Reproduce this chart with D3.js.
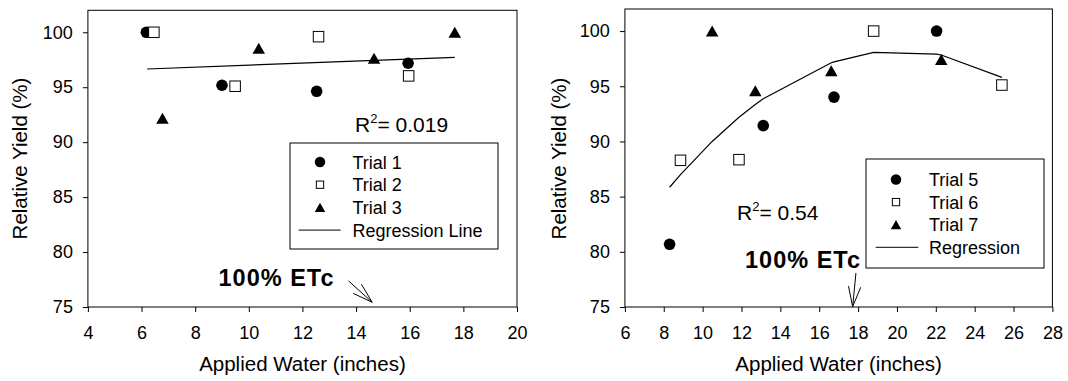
<!DOCTYPE html>
<html><head><meta charset="utf-8">
<script src="https://cdn.jsdelivr.net/npm/d3@7"></script>
<style>
body{margin:0;background:#fff;}
svg{display:block;font-family:"Liberation Sans",Arial,sans-serif;}
</style>
</head><body>
<svg id="chart" width="1068" height="381"></svg>
<script>
// ---------- Left panel data ----------
const trial1X = [6.18, 9.0, 12.53, 15.94];
const trial1Y = [100, 95.18, 94.63, 97.18];
const trial2X = [6.46, 9.49, 12.6, 15.96];
const trial2Y = [100, 95.09, 99.6, 96.03];
const trial3X = [6.78, 10.37, 14.67, 17.68];
const trial3Y = [92.17, 98.54, 97.63, 100];
const regLeftX = [6.21, 17.68];
const regLeftY = [96.66, 97.72];
// ---------- Right panel data ----------
const trial5X = [8.30, 13.12, 16.76, 22.04];
const trial5Y = [80.68, 91.43, 94.02, 100];
const trial6X = [8.86, 11.87, 18.80, 25.40];
const trial6Y = [88.29, 88.35, 100, 95.11];
const trial7X = [10.49, 12.71, 16.62, 22.28];
const trial7Y = [100, 94.6, 96.41, 97.43];
const regRightX = [8.30, 8.86, 10.49, 11.87, 12.71, 13.12, 16.62, 16.76, 18.80, 22.04, 22.28, 25.40];
const regRightY = [85.85, 86.99, 90.0, 92.19, 93.35, 93.87, 97.13, 97.21, 98.07, 97.91, 97.83, 95.8];
// ---------- Ticks & labels ----------
const xTicksLeft = [4, 6, 8, 10, 12, 14, 16, 18, 20];
const xTicksRight = [6, 8, 10, 12, 14, 16, 18, 20, 22, 24, 26, 28];
const yTicks = [75, 80, 85, 90, 95, 100];
const legendLeft = ["Trial 1", "Trial 2", "Trial 3", "Regression Line"];
const legendRight = ["Trial 5", "Trial 6", "Trial 7", "Regression"];
const r2Left = "0.019";
const r2Right = "0.54";
const xTitle = "Applied Water (inches)";
const yTitle = "Relative Yield (%)";
const etcLabel = "100% ETc";

const svg = d3.select("#chart");

function marker(g, type, cx, cy, s) {
  if (type === "circle") {
    g.append("circle").attr("cx", cx).attr("cy", cy).attr("r", s / 2).attr("fill", "#000");
  } else if (type === "square") {
    g.append("rect").attr("x", cx - s / 2).attr("y", cy - s / 2).attr("width", s).attr("height", s)
      .attr("fill", "#fff").attr("stroke", "#000").attr("stroke-width", 1);
  } else {
    const h = s * 0.88;
    g.append("path").attr("d", `M${cx - s / 2},${cy + h / 2}L${cx + s / 2},${cy + h / 2}L${cx},${cy - h / 2}Z`)
      .attr("fill", "#000");
  }
}

function panel(cfg) {
  const x = d3.scaleLinear().domain(cfg.xDomain).range([cfg.left, cfg.right]);
  const y = d3.scaleLinear().domain([75, 102]).range([cfg.bottom, cfg.top]);
  const g = svg.append("g");

  // frame
  g.append("rect").attr("x", cfg.left).attr("y", cfg.top)
    .attr("width", cfg.right - cfg.left).attr("height", cfg.bottom - cfg.top)
    .attr("fill", "none").attr("stroke", "#000").attr("stroke-width", 1);

  const xa = g.append("g").attr("transform", `translate(0,${cfg.bottom})`)
    .call(d3.axisBottom(x).tickValues(cfg.xTicks).tickSize(5).tickPadding(14).tickFormat(d3.format("d")));
  const ya = g.append("g").attr("transform", `translate(${cfg.left},0)`)
    .call(d3.axisLeft(y).tickValues(yTicks).tickSize(5).tickPadding(10).tickFormat(d3.format("d")));
  [xa, ya].forEach(a => {
    a.select(".domain").remove();
    a.selectAll("text").attr("font-size", 18).attr("fill", "#000").attr("font-family", "Liberation Sans, Arial, sans-serif");
    a.selectAll("line").attr("stroke", "#000");
  });

  // titles
  g.append("text").attr("x", (cfg.left + cfg.right) / 2).attr("y", 370.5)
    .attr("text-anchor", "middle").attr("font-size", 20.5).text(xTitle);
  g.append("text").attr("transform", `translate(${cfg.yTitleX},158.5) rotate(-90)`)
    .attr("text-anchor", "middle").attr("font-size", 20.5).text(yTitle);

  // regression line
  const line = d3.line().x(d => x(d[0])).y(d => y(d[1]));
  g.append("path").datum(cfg.regX.map((v, i) => [v, cfg.regY[i]]))
    .attr("d", line).attr("fill", "none").attr("stroke", "#000").attr("stroke-width", 1.2);

  // points
  cfg.series.forEach(s => {
    s.xs.forEach((v, i) => marker(g, s.type, x(v), y(s.ys[i]), s.type === "circle" ? 11.6 : (s.type === "square" ? 10.5 : 12.5)));
  });

  // legend
  const L = cfg.legend;
  g.append("rect").attr("x", L.x0).attr("y", L.y0).attr("width", L.x1 - L.x0).attr("height", L.y1 - L.y0)
    .attr("fill", "#fff").attr("stroke", "#000").attr("stroke-width", 1);
  cfg.legendLabels.forEach((lab, i) => {
    const ry = L.row0 + i * L.step;
    if (i < 3) {
      const t = cfg.series[i].type;
      marker(g, t, L.sx, ry, t === "circle" ? 10.5 : (t === "square" ? 7.3 : 10.5));
    } else {
      g.append("line").attr("x1", L.lx0).attr("x2", L.lx1).attr("y1", ry).attr("y2", ry)
        .attr("stroke", "#000").attr("stroke-width", 1);
    }
    g.append("text").attr("x", L.tx).attr("y", ry + 6.5).attr("font-size", 18).text(lab);
  });

  // R^2
  const r = g.append("text").attr("x", cfg.r2x).attr("y", cfg.r2y).attr("font-size", 21);
  r.append("tspan").text("R");
  r.append("tspan").attr("font-size", 13).attr("dy", -9).text("2");
  r.append("tspan").attr("dy", 9).text("= " + cfg.r2);

  // 100% ETc label and arrow
  g.append("text").attr("x", cfg.etcX).attr("y", cfg.etcY).attr("font-size", 23.5)
    .attr("font-weight", "bold").attr("letter-spacing", 1).text(etcLabel);
  const tx = x(cfg.arrowTip[0]), ty = y(cfg.arrowTip[1]);
  const bx = x(cfg.arrowTail[0]), by = y(cfg.arrowTail[1]);
  const ang = Math.atan2(by - ty, bx - tx);
  const ha = 17 * Math.PI / 180, hl = 21;
  const ag = g.append("g").attr("stroke", "#000").attr("stroke-width", 1).attr("fill", "none");
  ag.append("line").attr("x1", bx).attr("y1", by).attr("x2", tx).attr("y2", ty);
  [-ha, ha].forEach(a => {
    ag.append("line").attr("x1", tx).attr("y1", ty)
      .attr("x2", tx + hl * Math.cos(ang + a)).attr("y2", ty + hl * Math.sin(ang + a));
  });
}

panel({
  left: 87.9, right: 517, top: 10.3, bottom: 307,
  xDomain: [4, 20], xTicks: xTicksLeft, yTitleX: 27,
  regX: regLeftX, regY: regLeftY,
  series: [
    {type: "circle", xs: trial1X, ys: trial1Y},
    {type: "square", xs: trial2X, ys: trial2Y},
    {type: "triangle", xs: trial3X, ys: trial3Y}
  ],
  legendLabels: legendLeft,
  legend: {x0: 290, x1: 498, y0: 143, y1: 249, sx: 320, row0: 162, step: 22.7, lx0: 298.7, lx1: 340.6, tx: 352.5},
  r2: r2Left, r2x: 355, r2y: 132,
  etcX: 218.5, etcY: 286,
  arrowTail: [13.72, 77.37], arrowTip: [14.60, 75.43]
});

panel({
  left: 624.9, right: 1052.4, top: 9, bottom: 307,
  xDomain: [6, 28], xTicks: xTicksRight, yTitleX: 566,
  regX: regRightX, regY: regRightY,
  series: [
    {type: "circle", xs: trial5X, ys: trial5Y},
    {type: "square", xs: trial6X, ys: trial6Y},
    {type: "triangle", xs: trial7X, ys: trial7Y}
  ],
  legendLabels: legendRight,
  legend: {x0: 866, x1: 1044, y0: 159, y1: 268, sx: 896, row0: 179.5, step: 22.6, lx0: 875.7, lx1: 918.3, tx: 929},
  r2: r2Right, r2x: 737, r2y: 219.5,
  etcX: 745, etcY: 267.7,
  arrowTail: [17.89, 78.08], arrowTip: [17.72, 75.03]
});
</script>
</body></html>
